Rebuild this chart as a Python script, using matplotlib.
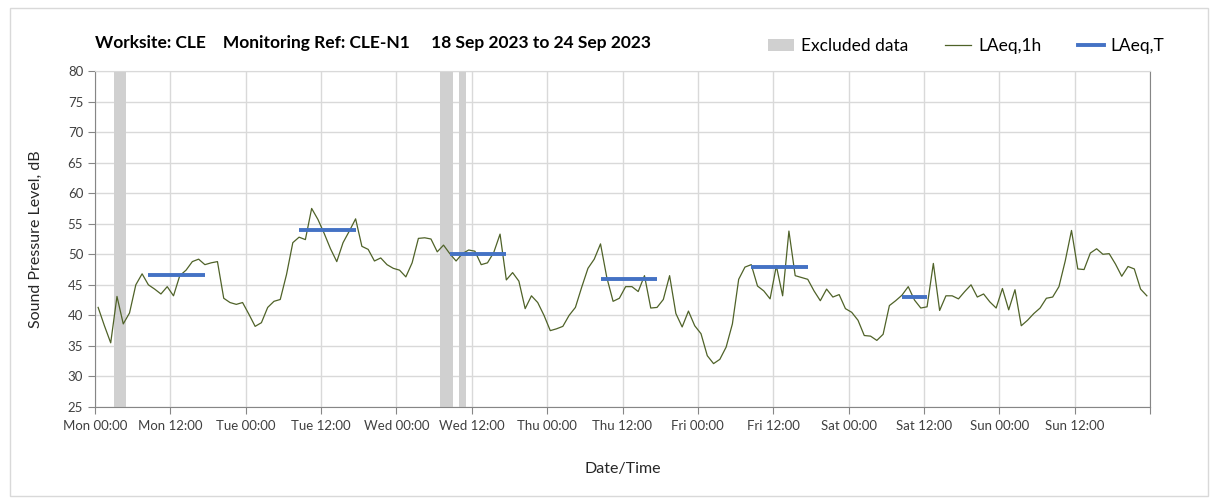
import matplotlib.pyplot as plt
import numpy as np
from matplotlib.patches import Rectangle
from matplotlib.lines import Line2D
from matplotlib.patches import Patch

# Hourly LAeq,1h values, Mon 00:00 .. Sun 23:00 (plotted at mid-hour)
laeq_1h = [
    41.3, 38.3, 35.5, 43.1, 38.6, 40.4, 45.0, 46.8, 45.0, 44.3, 43.5, 44.7,
    43.2, 46.5, 47.4, 48.8, 49.2, 48.3, 48.6, 48.8, 42.8, 42.1, 41.8, 42.1,
    40.2, 38.2, 38.8, 41.3, 42.3, 42.6, 46.7, 51.9, 52.8, 52.4, 57.5, 55.7,
    53.4, 50.9, 48.8, 51.9, 53.8, 55.8, 51.3, 50.8, 48.9, 49.4, 48.3, 47.7,
    47.4, 46.3, 48.6, 52.6, 52.7, 52.5, 50.4, 51.5, 50.1, 48.9, 50.1, 50.7,
    50.5, 48.3, 48.6, 50.3, 53.3, 45.8, 47.0, 45.6, 41.1, 43.2, 42.1, 40.0,
    37.5, 37.8, 38.2, 40.0, 41.3, 44.6, 47.7, 49.2, 51.7, 46.2, 42.3, 42.8,
    44.7, 44.7, 43.9, 46.5, 41.2, 41.3, 42.6, 46.5, 40.3, 38.1, 40.7, 38.3,
    37.0, 33.4, 32.1, 32.8, 34.8, 38.6, 45.9, 47.9, 48.3, 44.8, 44.0, 42.7,
    48.1, 43.2, 53.8, 46.5, 46.2, 45.9, 44.0, 42.4, 44.3, 43.0, 43.4, 41.1,
    40.5, 39.2, 36.7, 36.6, 35.9, 36.9, 41.6, 42.4, 43.3, 44.7, 42.5, 41.2,
    41.4, 48.5, 40.8, 43.2, 43.2, 42.7, 43.9, 45.0, 43.0, 43.5, 42.2, 41.2,
    44.4, 40.9, 44.2, 38.3, 39.2, 40.3, 41.2, 42.8, 43.0, 44.7, 48.9, 53.9,
    47.6, 47.5, 50.2, 50.9, 50.0, 50.1, 48.4, 46.4, 48.0, 47.6, 44.3, 43.2,
]
hours = np.arange(len(laeq_1h)) + 0.5

# LAeq,T daytime periods (hours from Mon 00:00)
laeqt_start = [8.5, 32.5, 56.5, 80.5, 104.5, 128.5]
laeqt_end = [17.5, 41.5, 65.5, 89.5, 113.5, 132.5]
laeqt_val = [46.6, 54.0, 50.0, 46.0, 47.9, 43.0]

# Excluded data periods
excl_start = [3, 55, 58]
excl_end = [5, 57, 59]

days = ['Mon', 'Tue', 'Wed', 'Thu', 'Fri', 'Sat', 'Sun']
tick_labels = [f'{d} {t}' for d in days for t in ('00:00', '12:00')]

plt.rcParams['font.family'] = ['Lato', 'DejaVu Sans']

fig = plt.figure(figsize=(12.18, 5), dpi=100)
ax = fig.add_axes([95 / 1218, 1 - 407 / 500, (1150 - 95) / 1218, (407 - 71) / 500])

fig.patches.append(Rectangle((10 / 1218, 4 / 500), 1198 / 1218, 488 / 500,
                             transform=fig.transFigure, fill=False,
                             edgecolor='#d9d9d9', linewidth=1))

for s, e in zip(excl_start, excl_end):
    ax.axvspan(s, e, color='#d0d0d0', linewidth=0, zorder=1)

ax.plot(hours, laeq_1h, color='#4f6228', linewidth=0.9, zorder=3)

for s, e, v in zip(laeqt_start, laeqt_end, laeqt_val):
    ax.plot([s, e], [v, v], color='#4472c4', linewidth=2.8,
            solid_capstyle='butt', zorder=4)

ax.set_xlim(0, 168)
ax.set_ylim(25, 80)
ax.set_xticks(np.arange(0, 169, 12))
ax.set_xticklabels(tick_labels + [''], fontsize=9.5, color='#404040')
ax.set_yticks(np.arange(25, 81, 5))
ax.tick_params(axis='y', labelsize=9.5, labelcolor='#404040', length=5,
               color='#868686', direction='out')
ax.tick_params(axis='x', length=5, color='#868686', direction='out', pad=4)
ax.grid(True, color='#d9d9d9', linewidth=1, zorder=0)
ax.set_axisbelow(True)
for sp in ax.spines.values():
    sp.set_color('#868686')
ax.spines['top'].set_color('#d9d9d9')

ax.set_ylabel('Sound Pressure Level, dB', fontsize=11.5, color='#262626', labelpad=18)
ax.set_xlabel('Date/Time', fontsize=11.5, color='#262626', labelpad=22)

fig.text(95 / 1218, 1 - 43 / 500,
         'Worksite: CLE    Monitoring Ref: CLE-N1     18 Sep 2023 to 24 Sep 2023',
         fontsize=12.5, fontweight='bold', va='center', ha='left', color='black')

handles = [Patch(facecolor='#d0d0d0', edgecolor='none', label='Excluded data'),
           Line2D([], [], color='#4f6228', linewidth=0.9, label='LAeq,1h'),
           Line2D([], [], color='#4472c4', linewidth=2.8, label='LAeq,T')]
fig.legend(handles=handles, loc='center right', bbox_to_anchor=(1180 / 1218, 1 - 46 / 500),
           ncol=3, frameon=False, fontsize=12.5, handlelength=1.5, handletextpad=0.4,
           columnspacing=2.1)

fig.savefig('out.png', dpi=100)
